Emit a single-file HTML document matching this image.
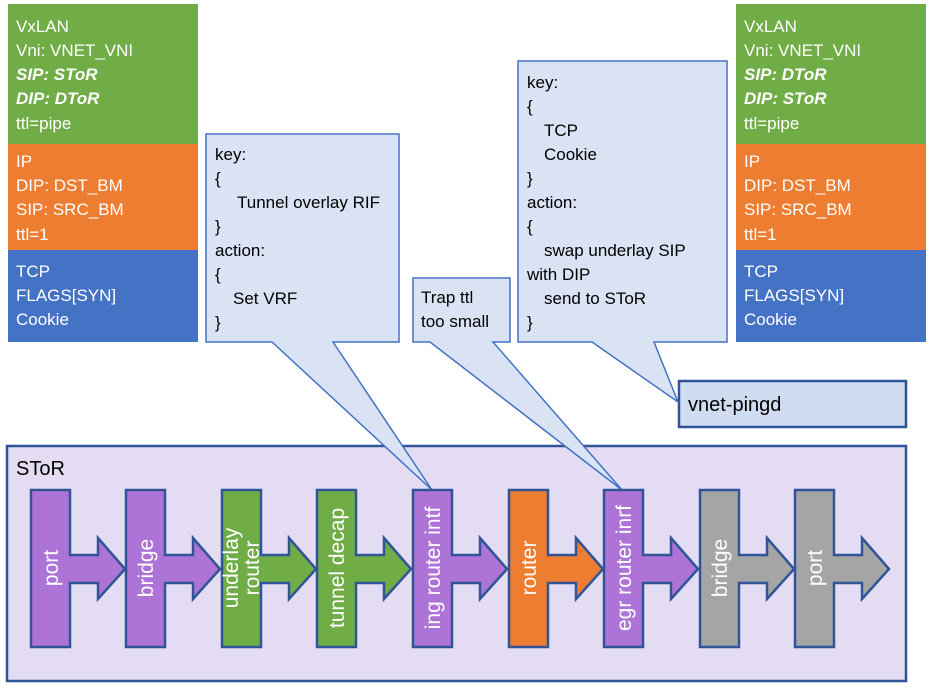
<!DOCTYPE html>
<html><head><meta charset="utf-8"><style>
html,body{margin:0;padding:0;background:#fff;}
svg{display:block;font-family:"Liberation Sans",sans-serif;}
</style></head><body>
<svg width="934" height="694" viewBox="0 0 934 694" xmlns="http://www.w3.org/2000/svg">
<!-- left packet -->
<rect x="8" y="4" width="190" height="140" fill="#70ad47"/>
<rect x="8" y="144" width="190" height="106" fill="#ed7d31"/>
<rect x="8" y="250" width="190" height="92" fill="#4472c4"/>
<g fill="#fff" font-size="17">
<text x="16" y="32">VxLAN</text>
<text x="16" y="56">Vni: VNET_VNI</text>
<text x="16" y="80" font-weight="bold" font-style="italic">SIP: SToR</text>
<text x="16" y="104" font-weight="bold" font-style="italic">DIP: DToR</text>
<text x="16" y="129">ttl=pipe</text>
<text x="16" y="167">IP</text>
<text x="16" y="191">DIP: DST_BM</text>
<text x="16" y="215">SIP: SRC_BM</text>
<text x="16" y="240">ttl=1</text>
<text x="16" y="277">TCP</text>
<text x="16" y="301">FLAGS[SYN]</text>
<text x="16" y="325">Cookie</text>
</g>
<!-- right packet -->
<rect x="736" y="4" width="190" height="140" fill="#70ad47"/>
<rect x="736" y="144" width="190" height="106" fill="#ed7d31"/>
<rect x="736" y="250" width="190" height="92" fill="#4472c4"/>
<g fill="#fff" font-size="17">
<text x="744" y="32">VxLAN</text>
<text x="744" y="56">Vni: VNET_VNI</text>
<text x="744" y="80" font-weight="bold" font-style="italic">SIP: DToR</text>
<text x="744" y="104" font-weight="bold" font-style="italic">DIP: SToR</text>
<text x="744" y="129">ttl=pipe</text>
<text x="744" y="167">IP</text>
<text x="744" y="191">DIP: DST_BM</text>
<text x="744" y="215">SIP: SRC_BM</text>
<text x="744" y="240">ttl=1</text>
<text x="744" y="277">TCP</text>
<text x="744" y="301">FLAGS[SYN]</text>
<text x="744" y="325">Cookie</text>
</g>
<!-- SToR box -->
<rect x="7" y="446" width="899" height="235" fill="#e3dcf3" stroke="#2f5597" stroke-width="2.5"/>
<text x="16" y="475" font-size="20" fill="#000">SToR</text>
<!-- vnet-pingd -->
<rect x="679" y="381" width="227" height="46" fill="#d0dcef" stroke="#2f5597" stroke-width="2.5"/>
<text x="688" y="411" font-size="20" fill="#000">vnet-pingd</text>
<!-- callouts -->
<g fill="#dae3f3" stroke="#4472c4" stroke-width="1.5">
<path d="M206,134 H399 V342 H333 L432,490 L272,342 H206 Z"/>
<path d="M413,278 H510 V342 H493 L622,490 L430,342 H413 Z"/>
<path d="M518,61 H727 V342 H654 L678,402 L592,342 H518 Z"/>
</g>
<g font-size="17" fill="#000">
<text x="215" y="160">key:</text>
<text x="215" y="184">{</text>
<text x="237" y="208">Tunnel overlay RIF</text>
<text x="215" y="232">}</text>
<text x="215" y="256">action:</text>
<text x="215" y="280">{</text>
<text x="233" y="304">Set VRF</text>
<text x="215" y="328">}</text>
<text x="421" y="303">Trap ttl</text>
<text x="421" y="327">too small</text>
<text x="527" y="88">key:</text>
<text x="527" y="112">{</text>
<text x="544" y="136">TCP</text>
<text x="544" y="160">Cookie</text>
<text x="527" y="184">}</text>
<text x="527" y="208">action:</text>
<text x="527" y="232">{</text>
<text x="544" y="256">swap underlay SIP</text>
<text x="527" y="280">with DIP</text>
<text x="544" y="304">send to SToR</text>
<text x="527" y="328">}</text>
</g>
<!-- pipeline blocks -->
<g stroke="#2f5597" stroke-width="2.5" stroke-linejoin="miter">
<path fill="#ad73d6" d="M31,490 h39 v65 h28 v-17 l27,31 l-27,30 v-16 h-28 v64 h-39 Z"/>
<path fill="#ad73d6" d="M126,490 h39 v65 h28 v-17 l27,31 l-27,30 v-16 h-28 v64 h-39 Z"/>
<path fill="#70ad47" d="M222,490 h39 v65 h28 v-17 l27,31 l-27,30 v-16 h-28 v64 h-39 Z"/>
<path fill="#70ad47" d="M317,490 h39 v65 h28 v-17 l27,31 l-27,30 v-16 h-28 v64 h-39 Z"/>
<path fill="#ad73d6" d="M413,490 h39 v65 h28 v-17 l27,31 l-27,30 v-16 h-28 v64 h-39 Z"/>
<path fill="#ed7d31" d="M509,490 h39 v65 h28 v-17 l27,31 l-27,30 v-16 h-28 v64 h-39 Z"/>
<path fill="#ad73d6" d="M604,490 h39 v65 h28 v-17 l27,31 l-27,30 v-16 h-28 v64 h-39 Z"/>
<path fill="#a5a5a5" d="M700,490 h39 v65 h28 v-17 l27,31 l-27,30 v-16 h-28 v64 h-39 Z"/>
<path fill="#a5a5a5" d="M795,490 h39 v65 h28 v-17 l27,31 l-27,30 v-16 h-28 v64 h-39 Z"/>
</g>
<g fill="#fff" font-size="21" text-anchor="middle">
<text transform="translate(58,568) rotate(-90)">port</text>
<text transform="translate(153,568) rotate(-90)">bridge</text>
<text transform="translate(238,568) rotate(-90)">underlay</text>
<text transform="translate(259,568) rotate(-90)">router</text>
<text transform="translate(344,568) rotate(-90)">tunnel decap</text>
<text transform="translate(440,568) rotate(-90)">ing router intf</text>
<text transform="translate(536,568) rotate(-90)">router</text>
<text transform="translate(631,568) rotate(-90)">egr router inrf</text>
<text transform="translate(727,568) rotate(-90)">bridge</text>
<text transform="translate(822,568) rotate(-90)">port</text>
</g>
</svg>
</body></html>
